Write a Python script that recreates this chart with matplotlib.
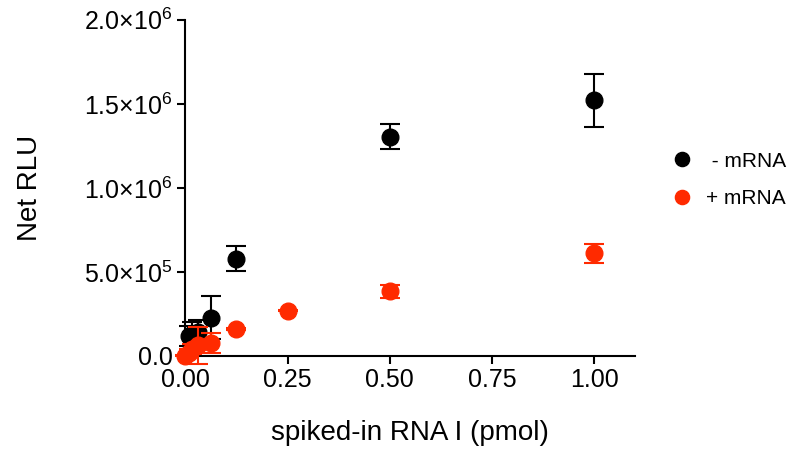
import numpy as np
import matplotlib.pyplot as plt

plt.rcParams['font.family'] = ['Liberation Sans', 'DejaVu Sans']
plt.rcParams['mathtext.default'] = 'regular'

# spiked-in RNA I (pmol)
conc_minus = [0.0078, 0.0156, 0.03125, 0.0625, 0.125, 0.5, 1.0]
rlu_minus = [120000, 130000, 145000, 228000, 578000, 1305000, 1520000]
err_minus = [60000, 70000, 70000, 130000, 75000, 75000, 160000]

conc_plus = [0.0, 0.0078, 0.0156, 0.03125, 0.0625, 0.125, 0.25, 0.5, 1.0]
rlu_plus = [0, 20000, 40000, 65000, 78000, 162000, 270000, 385000, 610000]
err_plus = [3000, 20000, 30000, 110000, 60000, 5000, 5000, 40000, 55000]

xticks = [0.0, 0.25, 0.5, 0.75, 1.0]
yticks = [0, 5e5, 1e6, 1.5e6, 2e6]
ytick_labels = ['0.0', r'5.0×10$^{5}$', r'1.0×10$^{6}$', r'1.5×10$^{6}$', r'2.0×10$^{6}$']

fig = plt.figure(figsize=(7.92, 4.5), dpi=100)
ax = fig.add_axes([0.234, 0.209, 0.568, 0.747])

ax.errorbar(conc_minus, rlu_minus, yerr=err_minus, fmt='o', color='black',
            ms=12, elinewidth=1.5, capsize=7, capthick=1.5, clip_on=False,
            label=' - mRNA', zorder=3)
ax.errorbar(conc_plus, rlu_plus, yerr=err_plus, fmt='o', color='#ff2a00',
            ms=12, elinewidth=1.5, capsize=7, capthick=1.5, clip_on=False,
            label='+ mRNA', zorder=4)

ax.set_xlim(0, 1.1)
ax.set_ylim(0, 2e6)
ax.set_xticks(xticks)
ax.set_xticklabels(['0.00', '0.25', '0.50', '0.75', '1.00'])
ax.set_yticks(yticks)
ax.set_yticklabels(ytick_labels)

for s in ['top', 'right']:
    ax.spines[s].set_visible(False)
for s in ['left', 'bottom']:
    ax.spines[s].set_linewidth(1.5)
ax.tick_params(direction='out', width=1.5, length=6, labelsize=18, pad=3)

ax.set_xlabel('spiked-in RNA I (pmol)', fontsize=20, labelpad=20)
ax.set_ylabel('Net RLU', fontsize=20, labelpad=30)

handles, labels = ax.get_legend_handles_labels()
handles = [h[0] for h in handles]
fig.legend(handles, labels, loc='center left', bbox_to_anchor=(0.848, 0.6),
           frameon=False, fontsize=15, handletextpad=0.67, labelspacing=0.9,
           markerscale=0.85, handlelength=1.0, borderpad=0, borderaxespad=0)

fig.savefig('out.png', dpi=100)
